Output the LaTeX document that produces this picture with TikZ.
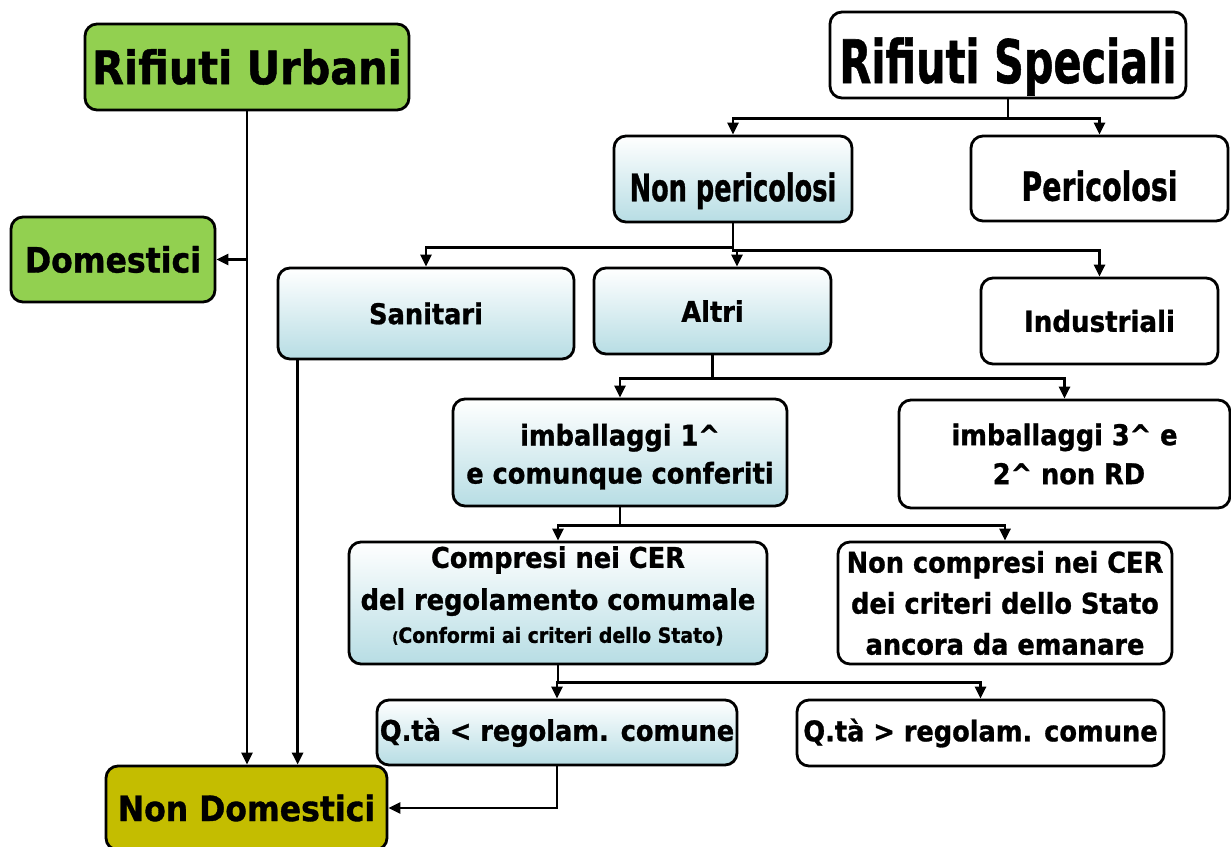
\documentclass[tikz,border=0pt]{standalone}
\usepackage{graphicx}
\usepackage{fontspec}
\setmainfont{DejaVu Sans Condensed}[BoldFeatures={FakeBold=1}]
\usetikzlibrary{arrows.meta}
\definecolor{verde}{RGB}{146,208,80}
\definecolor{oliva}{RGB}{196,189,0}
\definecolor{celeste}{RGB}{183,221,228}
% texto estrechado en horizontal
\newcommand{\stretto}[2]{\scalebox{#1}[1]{#2}}
\begin{document}
\begin{tikzpicture}[x=1pt,y=-1pt,
  caja/.style={draw, line width=2.8pt, rounded corners=12pt, inner sep=0pt, align=center,
    font=\bfseries\fontsize{28.5}{40}\selectfont},
  cajaverde/.style={caja, fill=verde},
  cajaazul/.style={caja, top color=white, bottom color=celeste},
  flecha/.style={line width=2.8pt, -{Triangle[length=12pt,width=11pt]}}]
% Marco de la figura
\useasboundingbox (0,0) rectangle (1231,846);

% Rifiuti urbani (columna izquierda)
\node[cajaverde, minimum width=324pt, minimum height=86pt, font=\bfseries\fontsize{46}{50}\selectfont] (urbani) at (247,67) {Rifiuti Urbani};
\node[cajaverde, minimum width=204pt, minimum height=85pt, font=\bfseries\fontsize{35}{40}\selectfont] (domestici) at (113,259.5) {Domestici};
\node[caja, fill=oliva, minimum width=281pt, minimum height=84pt, font=\bfseries\fontsize{35}{40}\selectfont] (nondom) at (246.5,808) {Non Domestici};

% Rifiuti speciali (arbol de la derecha)
\node[caja, fill=white, minimum width=356pt, minimum height=86pt, text height=56pt, text depth=0pt,
  font=\bfseries\fontsize{60}{64}\selectfont] (speciali) at (1008,55) {\stretto{0.767}{Rifiuti Speciali}};
\node[cajaazul, minimum width=238pt, minimum height=86pt, text height=44.5pt, text depth=0pt,
  font=\bfseries\fontsize{38}{40}\selectfont] (nonper) at (733,179) {\stretto{0.75}{Non pericolosi}};
\node[caja, minimum width=257pt, minimum height=85pt, text height=44.5pt, text depth=0pt,
  font=\bfseries\fontsize{40}{44}\selectfont] (per) at (1099.5,178.5) {\stretto{0.79}{Pericolosi}};

% Tercer nivel
\node[cajaazul, minimum width=296pt, minimum height=91pt] (sanitari) at (426,313.5) {Sanitari};
\node[cajaazul, minimum width=237pt, minimum height=86pt] (altri) at (712.5,311) {Altri};
\node[caja, minimum width=237pt, minimum height=86pt, font=\bfseries\fontsize{29}{40}\selectfont] (industriali) at (1099.5,321) {Industriali};

% Imballaggi
\node[cajaazul, minimum width=334pt, minimum height=107pt, font=\bfseries\fontsize{28.5}{38}\selectfont] (imb1) at (620,452.5)
  {\rule{0pt}{30pt}imballaggi 1\^{}\\e comunque conferiti};
\node[caja, minimum width=331pt, minimum height=108pt, font=\bfseries\fontsize{28.5}{39}\selectfont] (imb3) at (1064.5,454)
  {imballaggi 3\^{} e\\\ 2\^{} non RD};

% CER
\node[cajaazul, minimum width=418pt, minimum height=122pt, font=\bfseries\fontsize{28.5}{42}\selectfont] (compresi) at (558,603)
  {Compresi nei CER\\del regolamento comumale\\[-9pt]{\fontsize{21}{26}\selectfont{\fontsize{15}{26}\selectfont(}Conformi ai criteri dello Stato)\rule[-17pt]{0pt}{17pt}}};
\node[caja, minimum width=334pt, minimum height=122pt, font=\bfseries\fontsize{28.5}{41}\selectfont] (noncompresi) at (1005,603)
  {Non compresi nei CER\\dei criteri dello Stato\\ancora da emanare};

% Quantita
\node[cajaazul, minimum width=360pt, minimum height=65pt] (qmin) at (557,732.5) {Q.tà < regolam. comune};
\node[caja, minimum width=367pt, minimum height=66pt] (qmag) at (980.5,733) {Q.tà > regolam. comune};

% Flechas de la columna izquierda
\draw[flecha] (urbani.south) -- (urbani.south |- nondom.north);
\draw[flecha] (urbani.south |- domestici.east) -- (domestici.east);
\coordinate (sanbase) at ([xshift=21pt]sanitari.south west);
\draw[flecha] (sanbase) -- (sanbase |- nondom.north);

% Flechas del arbol
\draw[flecha] (speciali.south) -- ++(0,19) -| (nonper.north);
\draw[flecha] (speciali.south) -- ++(0,19) -| (per.north);

\draw[flecha] (nonper.south) -- ++(0,24) -| (sanitari.north);
\draw[flecha] (nonper.south) -- ++(0,27) -| (industriali.north);
\coordinate (snodo) at (737,249);
\draw[flecha] (snodo) -- (snodo |- altri.north);

\draw[flecha] (altri.south) -- ++(0,23) -| (imb1.north);
\draw[flecha] (altri.south) -- ++(0,23) -| (imb3.north);

\draw[flecha] (imb1.south) -- ++(0,18) -| (compresi.north);
\draw[flecha] (imb1.south) -- ++(0,18) -| (noncompresi.north);

\draw[flecha] (compresi.south) -- ++(0,17) -| (qmin.north);
\draw[flecha] (compresi.south) -- ++(0,17) -| (qmag.north);

% Vuelta a los no domestici
\draw[flecha] (qmin.south) |- (nondom.east);
\end{tikzpicture}
\end{document}
